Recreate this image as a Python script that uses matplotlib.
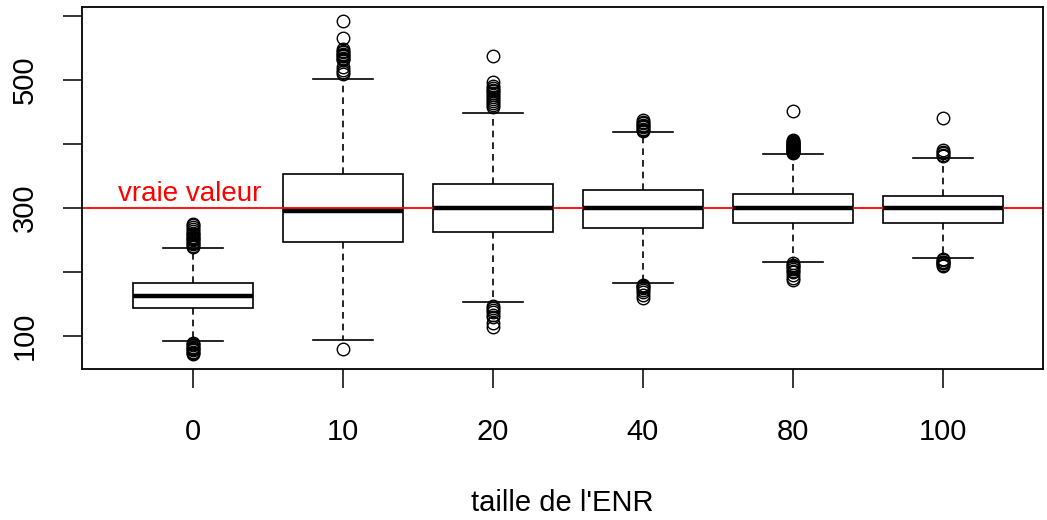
import matplotlib.pyplot as plt

plt.rcParams['font.family'] = ['Liberation Sans', 'DejaVu Sans']

# taille de l'ENR groups and box statistics
groups = ["0", "10", "20", "40", "80", "100"]
medians = [162, 295, 300, 299.5, 299.5, 299.5]
q1 = [143, 246, 262, 269, 277, 277]
q3 = [182, 353, 337, 328, 321, 318]
whislo = [91, 94, 153, 182, 215, 222]
whishi = [237, 501, 449, 418, 384, 378]
fliers = [
    [239, 241, 243, 245, 247, 249, 251, 253, 255, 257, 259, 261, 264, 267, 270, 273, 275,
     89, 87, 85, 83, 81, 79, 77, 75, 73, 71],
    [510, 513, 516, 520, 531, 533, 535, 537, 539, 541, 543, 545, 548, 565, 592, 79],
    [458, 461, 464, 467, 470, 473, 476, 479, 482, 485, 488, 491, 497, 537,
     146, 143, 140, 137, 133, 129, 120, 114],
    [420, 422, 424, 426, 428, 430, 432, 434, 437, 180, 178, 176, 174, 171, 168, 164, 159],
    [386, 387, 388, 389, 390, 391, 392, 393, 394, 395, 396, 397, 398, 399, 400, 401, 402,
     403, 404, 406, 452, 213, 211, 209, 207, 205, 202, 199, 195, 190, 187],
    [381, 383, 385, 388, 391, 440, 220, 218, 216, 215, 214, 213, 211, 209],
]
true_value = 300

stats = []
for i in range(len(groups)):
    stats.append({
        'med': medians[i], 'q1': q1[i], 'q3': q3[i],
        'whislo': whislo[i], 'whishi': whishi[i], 'fliers': fliers[i],
    })

fig = plt.figure(figsize=(10.47, 5.20), dpi=100)
ax = fig.add_axes([82 / 1047, 1 - 369 / 520, (1043 - 82) / 1047, (369 - 7) / 520])

lw = 1.2
ax.bxp(stats, positions=range(1, len(groups) + 1), widths=0.8, patch_artist=True,
       boxprops=dict(facecolor='white', edgecolor='black', linewidth=lw),
       medianprops=dict(color='black', linewidth=3.2, solid_capstyle='butt'),
       whiskerprops=dict(color='black', linewidth=lw, linestyle=(0, (4, 3))),
       capprops=dict(color='black', linewidth=lw),
       flierprops=dict(marker='o', markerfacecolor='none', markeredgecolor='black',
                       markersize=9, markeredgewidth=1.0),
       capwidths=0.4)

ax.axhline(true_value, color='red', linewidth=1.3)
ax.text(0.98, 311, "vraie valeur", color='red', fontsize=20, ha='center', va='baseline')

ax.set_xlim(0.26, 6.667)
ax.set_ylim(48, 614)
ax.set_xticks(range(1, len(groups) + 1))
ax.set_xticklabels(groups)
ax.set_yticks([100, 200, 300, 400, 500, 600])
ax.set_yticklabels(["100", "", "300", "", "500", ""], rotation=90, va='center')
ax.tick_params(axis='both', length=13.5, width=1.1, labelsize=21, color='black')
ax.tick_params(axis='x', pad=21.5)
ax.tick_params(axis='y', pad=17.5)
ax.set_xlabel("taille de l'ENR", fontsize=21, labelpad=31)

for s in ax.spines.values():
    s.set_linewidth(1.3)

fig.savefig("out.png", dpi=100)
